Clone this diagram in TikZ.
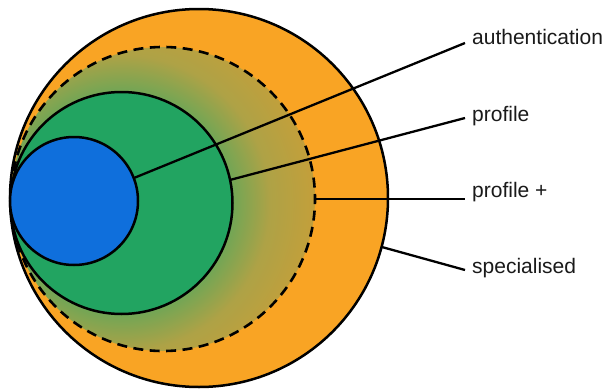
\documentclass[tikz,border=0pt]{standalone}
\usepackage{fontspec}
\setmainfont{Liberation Sans}
\definecolor{orng}{HTML}{F9A424}
\definecolor{grn}{HTML}{22A461}
\definecolor{blu}{HTML}{0F6FDC}
\definecolor{gA}{HTML}{6EA656}
\definecolor{gB}{HTML}{AEA246}
\definecolor{gC}{HTML}{C49F3A}
\definecolor{txt}{HTML}{1A1A1A}
\pgfdeclareradialshading{ringshade}{\pgfpoint{0bp}{0bp}}{color(0bp)=(gA); color(14bp)=(gA); color(19bp)=(gB); color(25bp)=(gC); color(50bp)=(gC)}
\tikzset{
  disc/.style={circle, draw=black, line width=2.5pt, inner sep=0pt, outer sep=0pt},
  lead/.style={draw=black, line width=2.3pt},
  lbl/.style={anchor=base west, inner sep=0pt, text=txt, font=\fontsize{21}{24}\selectfont}
}
\begin{document}
\begin{tikzpicture}[x=1pt,y=-1pt]
\fill[white] (0,0) rectangle (606,391);
\useasboundingbox (0,0) rectangle (606,391);
% outer
\node[disc, fill=orng, minimum size=378pt] (outer) at (199,198) {};
% shaded dashed disc
\begin{scope}
  \clip (163,199) circle (152pt);
  \shade[shading=ringshade] (121.5,203) circle (195pt);
\end{scope}
\node[disc, line width=2.6pt, dash pattern=on 10pt off 6.466pt, dash phase=5pt, minimum size=304pt] (plus) at (163,199) {};
% green
\node[disc, fill=grn, minimum size=222pt] (prof) at (121.5,203) {};
% blue
\node[disc, fill=blu, minimum size=128pt] (auth) at (74,201) {};
% labels
\node[lbl] (tA) at (472,44) {authentication};
\node[lbl] (tP) at (472,121) {profile};
\node[lbl] (tQ) at (472,197) {profile +};
\node[lbl] (tS) at (472,273) {specialised};
\coordinate (eA) at (465,43);
\coordinate (eP) at (465,118);
\coordinate (eQ) at (465,199);
\coordinate (eS) at (465,270);
\draw[lead] (auth.21.5) -- (eA);
\draw[lead] (prof.12.4) -- (eP);
\draw[lead] (plus.east) -- (eQ);
\draw[lead] (outer.-15) -- (eS);
\end{tikzpicture}
\end{document}
